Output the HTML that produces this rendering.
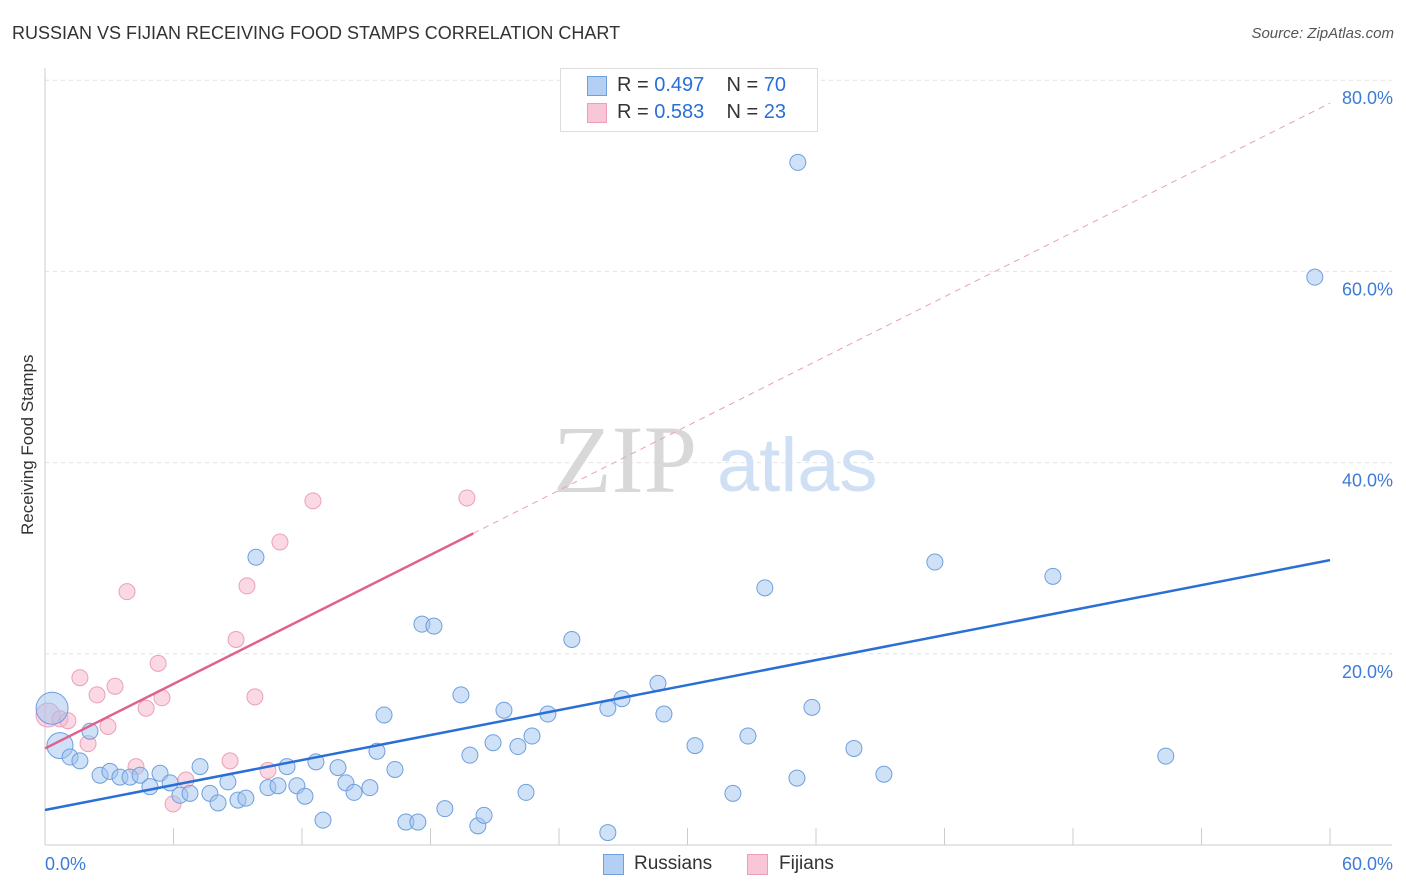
<!DOCTYPE html>
<html><head><meta charset="utf-8">
<style>
body{margin:0;background:#fff;font-family:"Liberation Sans",sans-serif;}
#c{position:relative;width:1406px;height:892px;overflow:hidden;}
.t{position:absolute;white-space:nowrap;}
</style></head>
<body>
<div id="c">
<div class="t" style="left:12px;top:23px;font-size:18px;color:#333;">RUSSIAN VS FIJIAN RECEIVING FOOD STAMPS CORRELATION CHART</div>
<div class="t" style="right:12px;top:25px;font-size:15px;color:#555;font-style:italic;">Source: ZipAtlas.com</div>
<div class="t" style="left:-52px;top:445px;font-size:17px;color:#333;transform:rotate(-90deg);width:160px;text-align:center;">Receiving Food Stamps</div>
<svg id="s" width="1406" height="892" style="position:absolute;left:0;top:0"></svg>
</div>
<script>
const yTicks=[20,40,60,80];
const yTickLabels=["20.0%","40.0%","60.0%","80.0%"];
const xTickLabels=["0.0%","60.0%"];
const russX=[0.33,0.70,1.17,1.63,2.10,2.57,3.03,3.50,3.97,4.44,4.90,5.37,5.84,6.30,6.77,7.24,7.70,8.08,8.54,9.01,9.38,9.85,10.41,10.88,11.30,11.76,12.14,12.65,12.98,13.68,14.05,14.43,15.17,15.83,15.50,16.34,16.85,17.41,17.60,18.16,18.67,19.42,19.84,20.21,20.50,20.92,21.43,22.08,22.46,22.74,23.48,24.60,26.28,26.28,26.94,28.62,28.90,30.35,32.12,32.82,33.61,35.11,35.15,35.81,37.77,39.17,41.55,47.06,52.33,59.29];
const russY=[14.3,10.4,9.2,8.8,11.9,7.3,7.7,7.1,7.1,7.3,6.1,7.5,6.5,5.2,5.4,8.2,5.4,4.4,6.6,4.7,4.9,30.1,6.0,6.2,8.2,6.2,5.1,8.7,2.6,8.1,6.5,5.5,6.0,13.6,9.8,7.9,2.4,2.4,23.1,22.9,3.8,15.7,9.4,2.0,3.1,10.7,14.1,10.3,5.5,11.4,13.7,21.5,1.3,14.3,15.3,16.9,13.7,10.4,5.4,11.4,26.9,7.0,71.4,14.4,10.1,7.4,29.6,28.1,9.3,59.4];
const russBig=[16,13];
const fijX=[0.14,0.70,1.07,1.63,2.01,2.43,2.94,3.27,3.83,4.25,4.72,5.28,5.46,5.98,6.58,8.64,8.92,9.43,9.80,10.41,10.97,12.51,19.70];
const fijY=[13.6,13.2,13.0,17.5,10.6,15.7,12.4,16.6,26.5,8.2,14.3,19.0,15.4,4.3,6.8,8.8,21.5,27.1,15.5,7.8,31.7,36.0,36.3];
const russLine=[3.66,29.8];
const fijLine=[10.1,77.6];
const fijLineEnd=20;

const X=v=>45+v*21.417, Y=v=>845-v*9.56;
const s=document.getElementById('s'),NS='http://www.w3.org/2000/svg';
function mk(t,a,n){const e=document.createElementNS(NS,t);for(const k in a)e.setAttribute(k,a[k]);


s.appendChild(e);return e;}
yTicks.forEach((v,i)=>{
 mk('line',{x1:45,x2:1392,y1:Y(v),y2:Y(v),stroke:'#e2e2e2','stroke-dasharray':'4,4'},'y-gridline');
 const t=mk('text',{x:1393,y:Y(v)+24,'text-anchor':'end','font-size':18,fill:'#3d7bd6','font-family':'Liberation Sans'},'y-tick-label');t.textContent=yTickLabels[i];
});
mk('line',{x1:45,x2:45,y1:68,y2:845,stroke:'#ccc'},'y-axis-line');
mk('line',{x1:45,x2:1392,y1:845,y2:845,stroke:'#ccc'},'x-axis-line');
for(let i=0;i<=10;i++)mk('line',{x1:X(i*6),x2:X(i*6),y1:828,y2:845,stroke:'#ccc'},'x-tick');
let t=mk('text',{x:45,y:870,'font-size':18,fill:'#3d7bd6','font-family':'Liberation Sans'},'x-tick-label');t.textContent=xTickLabels[0];
t=mk('text',{x:1393,y:870,'text-anchor':'end','font-size':18,fill:'#3d7bd6','font-family':'Liberation Sans'},'x-tick-label');t.textContent=xTickLabels[1];
t=mk('text',{x:553,y:492,'font-size':96,fill:'#d8d8d8','font-family':'Liberation Serif'},'watermark-zip');t.textContent='ZIP';
t=mk('text',{x:717,y:491,'font-size':76,fill:'#cfe0f5','font-family':'Liberation Sans'},'watermark-atlas');t.textContent='atlas';
fijX.forEach((v,i)=>mk('circle',{cx:X(v),cy:Y(fijY[i]),r:i==0?12:8,fill:'rgba(246,180,202,0.5)',stroke:'#eaa0b9','stroke-width':1},'fijian-point'));
russX.forEach((v,i)=>mk('circle',{cx:X(v),cy:Y(russY[i]),r:russBig[i]||8,fill:'rgba(160,196,240,0.5)',stroke:'#6f9fdd','stroke-width':1},'russian-point'));
mk('line',{x1:X(0),y1:Y(russLine[0]),x2:X(60),y2:Y(russLine[1]),stroke:'#2a6fd6','stroke-width':2.5},'russian-trendline');
const fy=x=>fijLine[0]+(fijLine[1]-fijLine[0])*x/60;
mk('line',{x1:X(fijLineEnd),y1:Y(fy(fijLineEnd)),x2:X(60),y2:Y(fy(60)),stroke:'#e8a0b8','stroke-width':1,'stroke-dasharray':'6,5'},'fijian-trend-extension');
mk('line',{x1:X(0),y1:Y(fy(0)),x2:X(fijLineEnd),y2:Y(fy(fijLineEnd)),stroke:'#e06090','stroke-width':2.5},'fijian-trendline');
</script>
<div class="t" style="left:560px;top:68px;width:256px;height:62px;border:1px solid #ddd;background:#fff;"></div>
<div class="t" style="left:587px;top:76px;width:18px;height:18px;background:#b3cff3;border:1px solid #6f9fdd;"></div>
<div class="t" style="left:617px;top:74px;font-size:20px;color:#333;">R = <span style="color:#2a6fd6">0.497</span>&nbsp;&nbsp;&nbsp; N = <span style="color:#2a6fd6">70</span></div>
<div class="t" style="left:587px;top:103px;width:18px;height:18px;background:#f8c6d6;border:1px solid #eaa0b9;"></div>
<div class="t" style="left:617px;top:101px;font-size:20px;color:#333;">R = <span style="color:#2a6fd6">0.583</span>&nbsp;&nbsp;&nbsp; N = <span style="color:#2a6fd6">23</span></div>
<div class="t" style="left:603px;top:854px;width:19px;height:19px;background:#b3cff3;border:1px solid #6f9fdd;"></div>
<div class="t" style="left:634px;top:853px;font-size:19px;color:#333;">Russians</div>
<div class="t" style="left:747px;top:854px;width:19px;height:19px;background:#f8c6d6;border:1px solid #eaa0b9;"></div>
<div class="t" style="left:779px;top:853px;font-size:19px;color:#333;">Fijians</div>
</body></html>
